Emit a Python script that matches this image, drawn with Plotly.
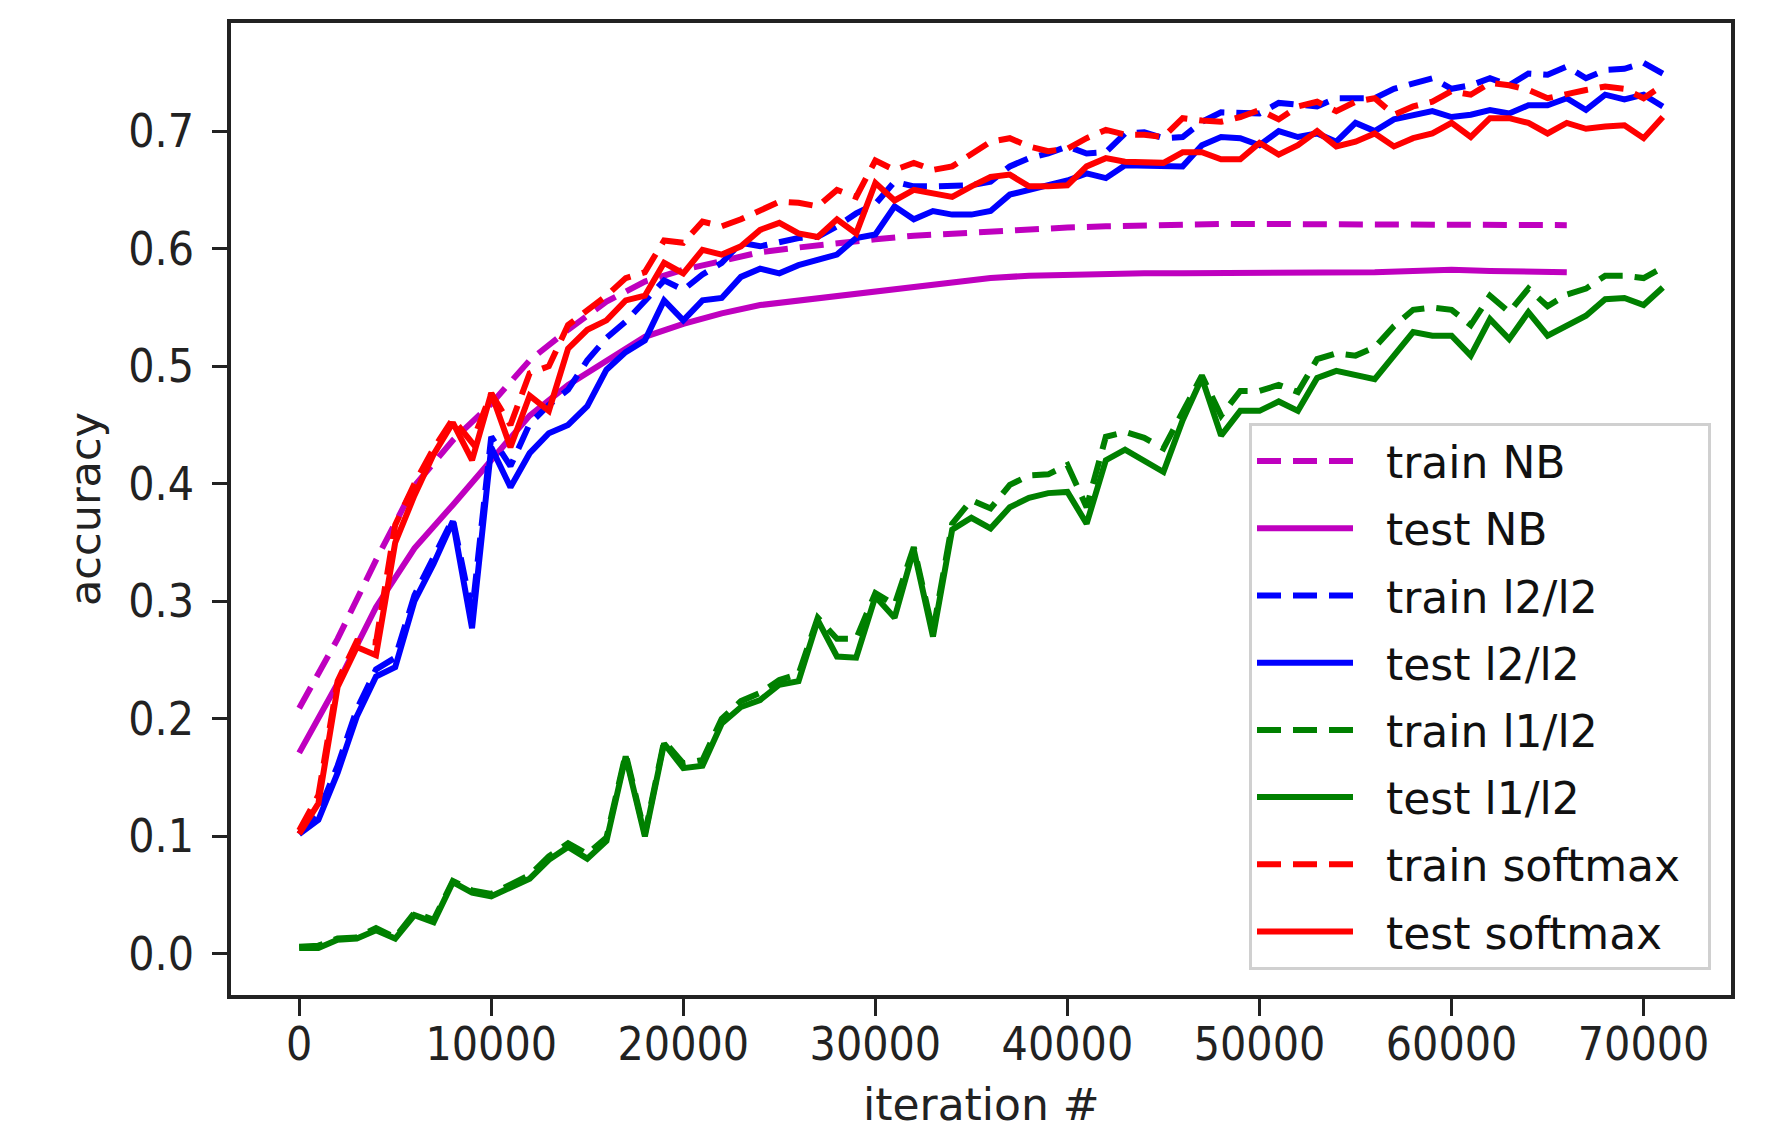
import plotly.graph_objects as go

iterations = list(range(0, 71001, 1000))
iterations_nb = list(range(0, 66001, 2000))

train_nb = [0.209, 0.268, 0.335, 0.398, 0.437, 0.468, 0.505, 0.531, 0.555, 0.572, 0.582, 0.590,
            0.597, 0.601, 0.605, 0.608, 0.611, 0.613, 0.615, 0.617, 0.618, 0.619, 0.620, 0.620,
            0.621, 0.621, 0.621, 0.621, 0.621, 0.621, 0.621, 0.620, 0.620, 0.620]
test_nb = [0.171, 0.230, 0.295, 0.345, 0.382, 0.420, 0.458, 0.484, 0.504, 0.525, 0.536, 0.545,
           0.552, 0.556, 0.559, 0.563, 0.567, 0.571, 0.575, 0.577, 0.578, 0.578, 0.579, 0.579,
           0.579, 0.579, 0.580, 0.580, 0.580, 0.581, 0.582, 0.581, 0.580, 0.580]

train_l2 = [0.102, 0.120, 0.160, 0.208, 0.242, 0.252, 0.305, 0.338, 0.370, 0.290, 0.440, 0.415,
            0.451, 0.467, 0.480, 0.505, 0.524, 0.538, 0.556, 0.573, 0.565, 0.578, 0.588, 0.605,
            0.602, 0.605, 0.609, 0.610, 0.619, 0.630, 0.638, 0.657, 0.653, 0.653, 0.653, 0.654,
            0.657, 0.670, 0.677, 0.681, 0.687, 0.681, 0.682, 0.698, 0.699, 0.694, 0.695, 0.708,
            0.716, 0.715, 0.715, 0.724, 0.722, 0.721, 0.728, 0.728, 0.728, 0.736, 0.741, 0.745,
            0.736, 0.739, 0.745, 0.739, 0.749, 0.748, 0.755, 0.745, 0.752, 0.753, 0.758, 0.749]
test_l2 = [0.102, 0.114, 0.154, 0.202, 0.236, 0.244, 0.300, 0.332, 0.368, 0.277, 0.431, 0.397,
           0.426, 0.443, 0.450, 0.466, 0.497, 0.512, 0.522, 0.556, 0.539, 0.556, 0.558, 0.576,
           0.583, 0.579, 0.586, 0.590, 0.595, 0.609, 0.612, 0.636, 0.625, 0.632, 0.629, 0.629,
           0.632, 0.646, 0.650, 0.653, 0.658, 0.664, 0.660, 0.671, 0.671, 0.671, 0.670, 0.688,
           0.695, 0.694, 0.688, 0.700, 0.695, 0.698, 0.691, 0.707, 0.700, 0.710, 0.714, 0.717,
           0.712, 0.714, 0.718, 0.715, 0.722, 0.722, 0.728, 0.718, 0.731, 0.727, 0.731, 0.721]

train_l1 = [0.006, 0.007, 0.013, 0.014, 0.022, 0.014, 0.035, 0.029, 0.062, 0.054, 0.051, 0.059,
            0.067, 0.083, 0.094, 0.085, 0.099, 0.170, 0.102, 0.181, 0.162, 0.165, 0.200, 0.215,
            0.222, 0.233, 0.238, 0.286, 0.268, 0.268, 0.307, 0.297, 0.346, 0.274, 0.366, 0.386,
            0.379, 0.399, 0.407, 0.408, 0.416, 0.380, 0.440, 0.444, 0.439, 0.430, 0.460, 0.492,
            0.458, 0.479, 0.479, 0.484, 0.478, 0.506, 0.511, 0.509, 0.516, 0.534, 0.548, 0.550,
            0.548, 0.535, 0.560, 0.546, 0.566, 0.551, 0.561, 0.566, 0.577, 0.577, 0.575, 0.584]
test_l1 = [0.005, 0.005, 0.012, 0.013, 0.020, 0.013, 0.033, 0.027, 0.061, 0.052, 0.049, 0.057,
           0.064, 0.080, 0.091, 0.081, 0.096, 0.168, 0.100, 0.179, 0.158, 0.160, 0.196, 0.210,
           0.216, 0.229, 0.232, 0.284, 0.253, 0.252, 0.304, 0.286, 0.344, 0.270, 0.361, 0.371,
           0.362, 0.380, 0.388, 0.392, 0.393, 0.366, 0.420, 0.429, 0.420, 0.410, 0.454, 0.490,
           0.441, 0.462, 0.462, 0.470, 0.462, 0.490, 0.496, 0.493, 0.489, 0.509, 0.529, 0.526,
           0.526, 0.509, 0.540, 0.523, 0.546, 0.526, 0.535, 0.543, 0.557, 0.558, 0.552, 0.567]

train_softmax = [0.105, 0.135, 0.232, 0.266, 0.265, 0.365, 0.400, 0.430, 0.455, 0.435, 0.477, 0.450,
                 0.494, 0.500, 0.535, 0.548, 0.560, 0.575, 0.580, 0.607, 0.605, 0.623, 0.619, 0.625,
                 0.633, 0.640, 0.639, 0.636, 0.650, 0.644, 0.675, 0.667, 0.673, 0.667, 0.670, 0.681,
                 0.691, 0.694, 0.687, 0.683, 0.685, 0.694, 0.701, 0.697, 0.697, 0.695, 0.711, 0.709,
                 0.708, 0.712, 0.718, 0.710, 0.721, 0.725, 0.717, 0.725, 0.728, 0.714, 0.721, 0.725,
                 0.734, 0.731, 0.741, 0.739, 0.735, 0.728, 0.732, 0.735, 0.738, 0.736, 0.728, 0.739]
test_softmax = [0.102, 0.128, 0.227, 0.261, 0.254, 0.350, 0.390, 0.425, 0.452, 0.420, 0.477, 0.431,
                0.475, 0.462, 0.515, 0.531, 0.539, 0.556, 0.560, 0.588, 0.579, 0.599, 0.595, 0.602,
                0.616, 0.622, 0.613, 0.610, 0.625, 0.613, 0.656, 0.641, 0.650, 0.647, 0.644, 0.653,
                0.661, 0.663, 0.653, 0.653, 0.654, 0.670, 0.677, 0.674, 0.673, 0.673, 0.682, 0.682,
                0.676, 0.676, 0.690, 0.680, 0.688, 0.700, 0.687, 0.691, 0.698, 0.687, 0.694, 0.698,
                0.707, 0.695, 0.711, 0.711, 0.707, 0.698, 0.707, 0.702, 0.704, 0.705, 0.694, 0.712]

series = [
    ("train NB", iterations_nb, train_nb, "#bf00bf", "dash"),
    ("test NB", iterations_nb, test_nb, "#bf00bf", "solid"),
    ("train l2/l2", iterations, train_l2, "#0000ff", "dash"),
    ("test l2/l2", iterations, test_l2, "#0000ff", "solid"),
    ("train l1/l2", iterations, train_l1, "#008000", "dash"),
    ("test l1/l2", iterations, test_l1, "#008000", "solid"),
    ("train softmax", iterations, train_softmax, "#ff0000", "dash"),
    ("test softmax", iterations, test_softmax, "#ff0000", "solid"),
]

fig = go.Figure()
for i, (name, xs, ys, color, dash) in enumerate(series):
    label = "\u00a0\u00a0" + name + ("\u2002" if name == "train softmax" else "")
    fig.add_trace(go.Scatter(
        x=xs, y=ys, mode="lines", name=label,
        legendgroup="g%d" % i,
        line=dict(color=color, width=6, dash="24px,12px" if dash == "dash" else "solid"),
    ))

W, H = 1769, 1130
OFF = 8  # page body margin of the browser
L, R, T, B = 231, 1731, 23, 995  # target plot box, page pixels
axis_color = "#222222"
tick_font = dict(family="DejaVu Sans Condensed, DejaVu Sans", size=46, color="#222222")

fig.update_layout(
    width=W, height=H,
    margin=dict(l=L - OFF, r=W - R + OFF, t=T - OFF, b=H - B + OFF, pad=0),
    paper_bgcolor="white", plot_bgcolor="white",
    font=dict(family="DejaVu Sans", color="#222222"),
    showlegend=True,
    legend=dict(
        x=(1249 - L) / (R - L), y=1 - (423 - T) / (B - T),
        xanchor="left", yanchor="top",
        bgcolor="white", bordercolor="#d0d0d0", borderwidth=3,
        font=dict(family="DejaVu Sans", size=44, color="#111111"),
        itemwidth=96, tracegroupgap=7,
    ),
    xaxis=dict(
        range=[-3550, 74550], tickmode="array",
        tickvals=[0, 10000, 20000, 30000, 40000, 50000, 60000, 70000],
        ticktext=["0", "10000", "20000", "30000", "40000", "50000", "60000", "70000"],
        showgrid=False, zeroline=False,
        showline=True, linecolor=axis_color, linewidth=3.5, mirror=True,
        ticks="outside", ticklen=17, tickwidth=3, tickcolor=axis_color,
        tickfont=tick_font, ticklabelstandoff=-11,
    ),
    yaxis=dict(
        range=[-0.035, 0.792], tickmode="array",
        tickvals=[0.0, 0.1, 0.2, 0.3, 0.4, 0.5, 0.6, 0.7],
        ticktext=["0.0", "0.1", "0.2", "0.3", "0.4", "0.5", "0.6", "0.7"],
        showgrid=False, zeroline=False,
        showline=True, linecolor=axis_color, linewidth=3.5, mirror=True,
        ticks="outside", ticklen=15, tickwidth=3, tickcolor=axis_color,
        tickfont=tick_font, ticklabelstandoff=9,
    ),
    annotations=[
        dict(text="iteration #", xref="paper", yref="paper", x=0.5, y=-(1132 - B) / (B - T),
             xanchor="center", yanchor="bottom", showarrow=False,
             font=dict(family="DejaVu Sans", size=44, color="#222222")),
        dict(text="accuracy", xref="paper", yref="paper", x=-(L - 85) / (R - L), y=0.5,
             xanchor="center", yanchor="middle", showarrow=False, textangle=-90,
             font=dict(family="DejaVu Sans", size=43, color="#222222")),
    ],
)

fig.write_html("out.html")
